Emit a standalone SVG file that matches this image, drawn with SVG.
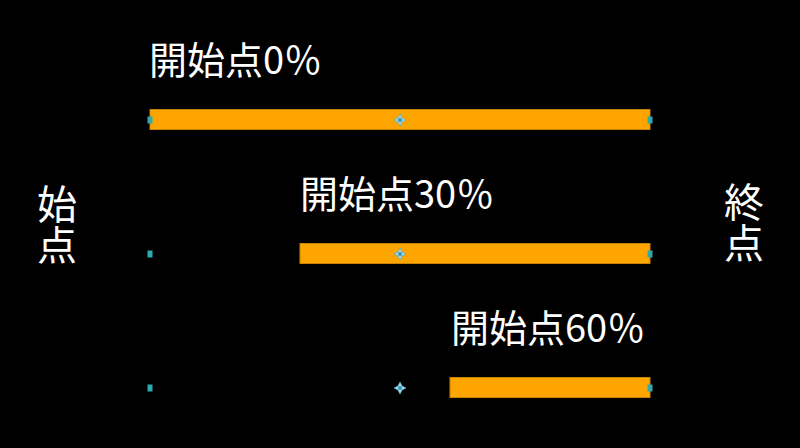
<svg xmlns="http://www.w3.org/2000/svg" width="800" height="448" viewBox="0 0 800 448">
<defs>
<style>
.bar{fill:#FFA500;stroke:#C98300;stroke-width:1}
.lbl{font-family:"Noto Sans CJK JP","Noto Sans",sans-serif;fill:#FFFFFF;font-size:38px;font-weight:400}
.side{font-family:"Noto Sans CJK JP","Noto Sans",sans-serif;fill:#FFFFFF;font-size:40px;font-weight:400;writing-mode:vertical-rl;letter-spacing:1px}
.pt{fill:#2FA9B0}
.mid{fill:#A8DCE8;stroke:#5AAFC8;stroke-width:0.8}
.midc{fill:#3C93B8}
</style>
<g id="endpt"><rect class="pt" x="-2.5" y="-3.5" width="5" height="7"/></g>
<g id="midpt"><path class="mid" d="M0,-6 L2,-2 L6,0 L2,2 L0,6 L-2,2 L-6,0 L-2,-2 Z"/><circle class="midc" cx="0" cy="0" r="2"/></g>
</defs>
<rect width="800" height="448" fill="#000000"/>
<g id="side-labels">
<g id="start-label"><text class="side" x="57" y="184">始点</text></g>
<g id="end-label"><text class="side" x="744" y="182">終点</text></g>
</g>
<g id="row1">
<text class="lbl" x="149" y="74">開始点0％</text>
<rect class="bar" x="150" y="109.5" width="500" height="20"/>
<use href="#endpt" x="150" y="120"/>
<use href="#midpt" x="400" y="120"/>
<use href="#endpt" x="650" y="120"/>
</g>
<g id="row2">
<text class="lbl" x="300" y="208">開始点30％</text>
<rect class="bar" x="300" y="243.5" width="350" height="20"/>
<use href="#endpt" x="150" y="254"/>
<use href="#midpt" x="400" y="254"/>
<use href="#endpt" x="650" y="254"/>
</g>
<g id="row3">
<text class="lbl" x="451" y="342">開始点60％</text>
<rect class="bar" x="450" y="377.5" width="200" height="20"/>
<use href="#endpt" x="150" y="388"/>
<use href="#midpt" x="400" y="388"/>
<use href="#endpt" x="650" y="388"/>
</g>
</svg>
